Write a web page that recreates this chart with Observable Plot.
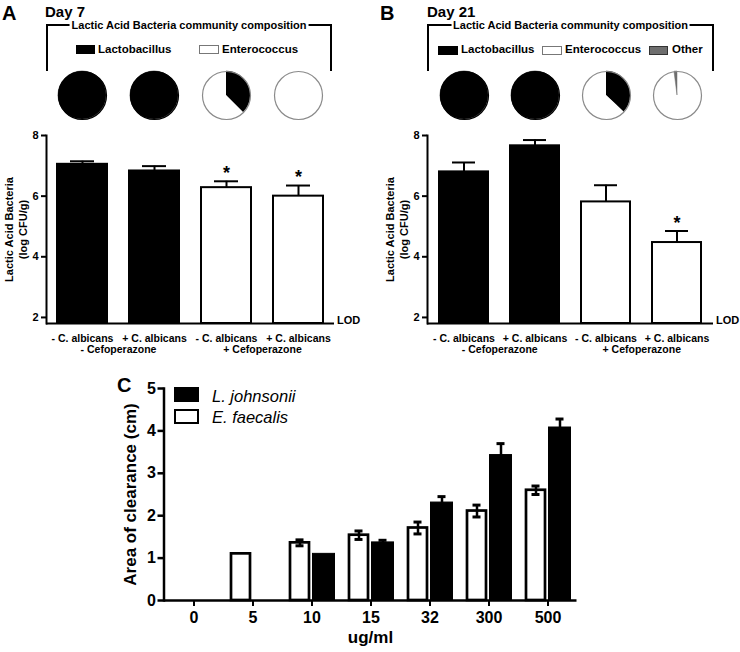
<!DOCTYPE html>
<html><head><meta charset="utf-8">
<script src="https://cdn.jsdelivr.net/npm/d3@7"></script>
<script src="https://cdn.jsdelivr.net/npm/@observablehq/plot@0.6"></script>
<style>
body{margin:0;background:#fff;font-family:"Liberation Sans",Arial,sans-serif;color:#000;}
#fig{position:relative;width:740px;height:652px;overflow:hidden;background:#fff;}
.abs{position:absolute;white-space:nowrap;line-height:1;}
.ctr{transform:translateY(-50%);}
.b{font-weight:bold;}
.bracket{position:absolute;border:2px solid #000;border-bottom:none;box-sizing:border-box;}
.btitle{position:absolute;left:50%;top:-1px;transform:translate(-50%,-50%);background:#fff;padding:0 2px;font-weight:bold;font-size:11px;white-space:nowrap;line-height:1;}
.sw{position:absolute;box-sizing:border-box;}
.pl{position:absolute;}
.pl svg{display:block;max-width:none;}
</style></head><body><div id="fig"></div>
<script>
// ---------- data ----------
const groups = ["- C. albicans", "+ C. albicans", "- C. albicans", "+ C. albicans"];
const treatments = ["- Cefoperazone", "- Cefoperazone", "+ Cefoperazone", "+ Cefoperazone"];
const yTicksAB = [2, 4, 6, 8];
const lodBase = 1.8;

const day7Values = [7.05, 6.83, 6.28, 6.0];
const day7Errors = [0.1, 0.16, 0.21, 0.35];
const day7Signif = [false, false, true, true];
const day7Lacto = [100, 100, 37.5, 0];
const day7Entero = [0, 0, 62.5, 100];
const day7Other = [0, 0, 0, 0];

const day21Values = [6.8, 7.66, 5.81, 4.47];
const day21Errors = [0.31, 0.19, 0.55, 0.38];
const day21Signif = [false, false, false, true];
const day21Lacto = [100, 100, 37, 0];
const day21Entero = [0, 0, 63, 98];
const day21Other = [0, 0, 0, 2];

const concentrations = ["0", "5", "10", "15", "32", "300", "500"];
const lJohnsonii = [0, 0, 1.10, 1.37, 2.31, 3.43, 4.08];
const lJohnsoniiErr = [0, 0, 0, 0.05, 0.14, 0.27, 0.2];
const eFaecalis = [0, 1.10, 1.36, 1.54, 1.71, 2.11, 2.60];
const eFaecalisErr = [0, 0, 0.07, 0.1, 0.14, 0.14, 0.1];
const yTicksC = [0, 1, 2, 3, 4, 5];

// ---------- helpers ----------
const fig = document.getElementById("fig");
const FONT = '"Liberation Sans", Arial, sans-serif';
const baseStyle = {fontFamily: FONT, fontWeight: "bold", fontSize: "11px", background: "transparent", overflow: "visible", color: "#000"};
const PAD = 0.305;

function place(node, left, top) {
  const d = document.createElement("div");
  d.className = "pl";
  d.style.left = left + "px";
  d.style.top = top + "px";
  d.appendChild(node);
  fig.appendChild(d);
}
function html(s) { fig.insertAdjacentHTML("beforeend", s); }

function piePanel({lacto, entero, other, marginLeft, marginRight}) {
  const rows = lacto.map((l, i) => ({key: String(i), allBlack: l >= 100, slices: [
    {value: l, fill: "#000"}, {value: entero[i], fill: "#fff"}, {value: other[i], fill: "#6e6e6e"}]}));
  const R = 24;
  const pieRender = (index, scales, values, dim) => {
    const g = d3.create("svg:g");
    const bw = scales.x.bandwidth ? scales.x.bandwidth() : 0;
    const cy = dim.marginTop + (dim.height - dim.marginTop - dim.marginBottom) / 2;
    const arc = d3.arc().innerRadius(0).outerRadius(R);
    const pie = d3.pie().sort(null).value(d => d.value);
    rows.forEach(r => {
      const cx = scales.x(r.key) + bw / 2;
      g.append("g").attr("transform", `translate(${cx},${cy})`)
        .selectAll("path").data(pie(r.slices).filter(a => a.data.value > 0)).join("path")
        .attr("d", arc).attr("fill", a => a.data.fill)
        .attr("stroke", a => a.data.fill === "#fff" ? "none" : a.data.fill).attr("stroke-width", 0.5);
    });
    return g.node();
  };
  return Plot.plot({
    width: 370, height: 50, marginTop: 0, marginBottom: 0, marginLeft, marginRight,
    style: baseStyle,
    color: {type: "identity"},
    x: {domain: rows.map(d => d.key), paddingInner: PAD, paddingOuter: PAD / 2, axis: null},
    marks: [
      pieRender,
      Plot.dot(rows, {x: "key", r: R, fill: "none", stroke: d => d.allBlack ? "#000" : "#8a8a8a", strokeWidth: 1.2})
    ]
  });
}

function barPanel({values, errors, signif, lacto, marginLeft, marginRight}) {
  const rows = values.map((v, i) => ({key: String(i), value: v, top: v + errors[i],
    fill: lacto[i] > 50 ? "black" : "white", sig: signif[i], group: groups[i]}));
  const treatRows = [{key: "0", label: treatments[0]}, {key: "2", label: treatments[2]}];
  const W = 370;
  const step = (W - marginLeft - marginRight) / rows.length;
  return Plot.plot({
    width: W, height: 260, marginTop: 25, marginBottom: 47, marginLeft, marginRight,
    style: baseStyle,
    color: {type: "identity"},
    x: {domain: rows.map(d => d.key), paddingInner: PAD, paddingOuter: PAD / 2},
    y: {domain: [lodBase, 8]},
    marks: [
      Plot.barY(rows, {x: "key", y1: lodBase, y2: "value", fill: "fill", stroke: "black", strokeWidth: 2}),
      Plot.ruleX(rows, {x: "key", y1: "value", y2: "top", strokeWidth: 2}),
      Plot.tickY(rows, {x: "key", y: "top", strokeWidth: 2, insetLeft: 13, insetRight: 13}),
      Plot.text(rows.filter(d => d.sig), {x: "key", y: "top", text: () => "*", fontSize: 18, dy: -8}),
      Plot.ruleY([lodBase], {strokeWidth: 2}),
      Plot.frame({anchor: "left", strokeWidth: 2}),
      Plot.axisY({ticks: yTicksAB, tickSize: 5, tickPadding: 3, fontSize: 11, strokeWidth: 2, tickFormat: d3.format("d"), label: null}),
      Plot.axisX({tickSize: 0, tickPadding: 11, fontSize: 10.5, tickFormat: k => rows[+k].group, label: null}),
      Plot.text(treatRows, {x: "key", text: "label", frameAnchor: "bottom", dx: step / 2, dy: 29, fontSize: 10.5}),
      Plot.text(["LOD"], {frameAnchor: "bottom-right", textAnchor: "start", dx: 2.5, fontSize: 11}),
      Plot.text(["Lactic Acid Bacteria\n(log CFU/g)"], {frameAnchor: "left", textAnchor: "middle", rotate: -90, dx: -31, fontSize: 11, lineHeight: 1.27})
    ]
  });
}

// ---------- Panel A ----------
html(`<div class="abs b ctr" style="left:2px;top:12.5px;font-size:20px">A</div>
<div class="abs b ctr" style="left:45px;top:11px;font-size:15px">Day 7</div>
<div class="bracket" style="left:46px;top:24px;width:286px;height:47px"><div class="btitle">Lactic Acid Bacteria community composition</div></div>
<div class="sw" style="left:76px;top:45px;width:19px;height:9px;background:#000"></div>
<div class="abs b ctr" style="left:98px;top:49.5px;font-size:11.5px">Lactobacillus</div>
<div class="sw" style="left:199px;top:45px;width:20px;height:9px;background:#fff;border:1px solid #777"></div>
<div class="abs b ctr" style="left:222px;top:49.5px;font-size:11.5px">Enterococcus</div>`);
place(piePanel({lacto: day7Lacto, entero: day7Entero, other: day7Other, marginLeft: 46, marginRight: 36}), 0, 70);
place(barPanel({values: day7Values, errors: day7Errors, signif: day7Signif, lacto: day7Lacto, marginLeft: 46, marginRight: 36}), 0, 110);

// ---------- Panel B ----------
html(`<div class="abs b ctr" style="left:380px;top:12.5px;font-size:20px">B</div>
<div class="abs b ctr" style="left:427px;top:11px;font-size:15px">Day 21</div>
<div class="bracket" style="left:427px;top:24px;width:287px;height:47px"><div class="btitle">Lactic Acid Bacteria community composition</div></div>
<div class="sw" style="left:438px;top:46px;width:20px;height:9px;background:#000"></div>
<div class="abs b ctr" style="left:461px;top:50px;font-size:11.5px">Lactobacillus</div>
<div class="sw" style="left:542px;top:46px;width:20px;height:9px;background:#fff;border:1px solid #777"></div>
<div class="abs b ctr" style="left:565px;top:50px;font-size:11.5px">Enterococcus</div>
<div class="sw" style="left:649px;top:46px;width:19px;height:9px;background:#6e6e6e;border:1px solid #333"></div>
<div class="abs b ctr" style="left:672px;top:50px;font-size:11.5px">Other</div>`);
place(piePanel({lacto: day21Lacto, entero: day21Entero, other: day21Other, marginLeft: 57, marginRight: 27}), 370, 70);
place(barPanel({values: day21Values, errors: day21Errors, signif: day21Signif, lacto: day21Lacto, marginLeft: 57, marginRight: 27}), 370, 110);

// ---------- Panel C ----------
const cWhite = concentrations.map((c, i) => ({conc: c, value: eFaecalis[i], err: eFaecalisErr[i]}));
const cBlack = concentrations.map((c, i) => ({conc: c, value: lJohnsonii[i], err: lJohnsoniiErr[i]}));
const errMarks = (rows, side) => {
  const r = rows.filter(d => d.err > 0);
  const ins = side < 0 ? {insetLeft: 13.5, insetRight: 37.5} : {insetLeft: 37.5, insetRight: 13.5};
  return [
    Plot.ruleX(r, {x: "conc", y1: d => d.value - d.err, y2: d => d.value + d.err, dx: 12 * side, strokeWidth: 2.5}),
    Plot.tickY(r, {x: "conc", y: d => d.value + d.err, strokeWidth: 3, ...ins}),
    Plot.tickY(r, {x: "conc", y: d => d.value - d.err, strokeWidth: 3, ...ins})
  ];
};
const plotC = Plot.plot({
  width: 740, height: 292, marginTop: 28, marginBottom: 52, marginLeft: 163.5, marginRight: 163.5,
  style: {...baseStyle, fontSize: "16px"},
  x: {domain: concentrations, padding: 0},
  y: {domain: [0, 5]},
  marks: [
    Plot.barY(cWhite.filter(d => d.value > 0), {x: "conc", y: "value", fill: "white", stroke: "black", strokeWidth: 2.7, insetLeft: 8, insetRight: 32}),
    Plot.barY(cBlack.filter(d => d.value > 0), {x: "conc", y: "value", fill: "black", stroke: "black", strokeWidth: 1, insetLeft: 30.5, insetRight: 6.5}),
    ...errMarks(cWhite, -1),
    ...errMarks(cBlack, 1),
    Plot.ruleY([0], {strokeWidth: 2.5}),
    Plot.frame({anchor: "left", strokeWidth: 2.5}),
    Plot.axisY({ticks: yTicksC, tickSize: 6, tickPadding: 2, fontSize: 16, strokeWidth: 2.5, tickFormat: d3.format("d"), label: null}),
    Plot.axisX({tickSize: 6, tickPadding: 5, fontSize: 16, strokeWidth: 2, label: null}),
    Plot.text(["ug/ml"], {frameAnchor: "bottom", dy: 42, fontSize: 17}),
    Plot.text(["Area of clearance (cm)"], {frameAnchor: "left", textAnchor: "middle", rotate: -90, dx: -33, fontSize: 17})
  ]
});
place(plotC, 0, 360);
html(`<div class="abs b ctr" style="left:117px;top:385px;font-size:20px">C</div>
<div class="sw" style="left:174px;top:387px;width:25px;height:15px;background:#000"></div>
<div class="abs ctr" style="left:212px;top:396px;font-size:16.5px;font-style:italic">L. johnsonii</div>
<div class="sw" style="left:174px;top:409px;width:25px;height:15px;background:#fff;border:2.5px solid #000"></div>
<div class="abs ctr" style="left:212px;top:417px;font-size:16.5px;font-style:italic">E. faecalis</div>`);
</script></body></html>
